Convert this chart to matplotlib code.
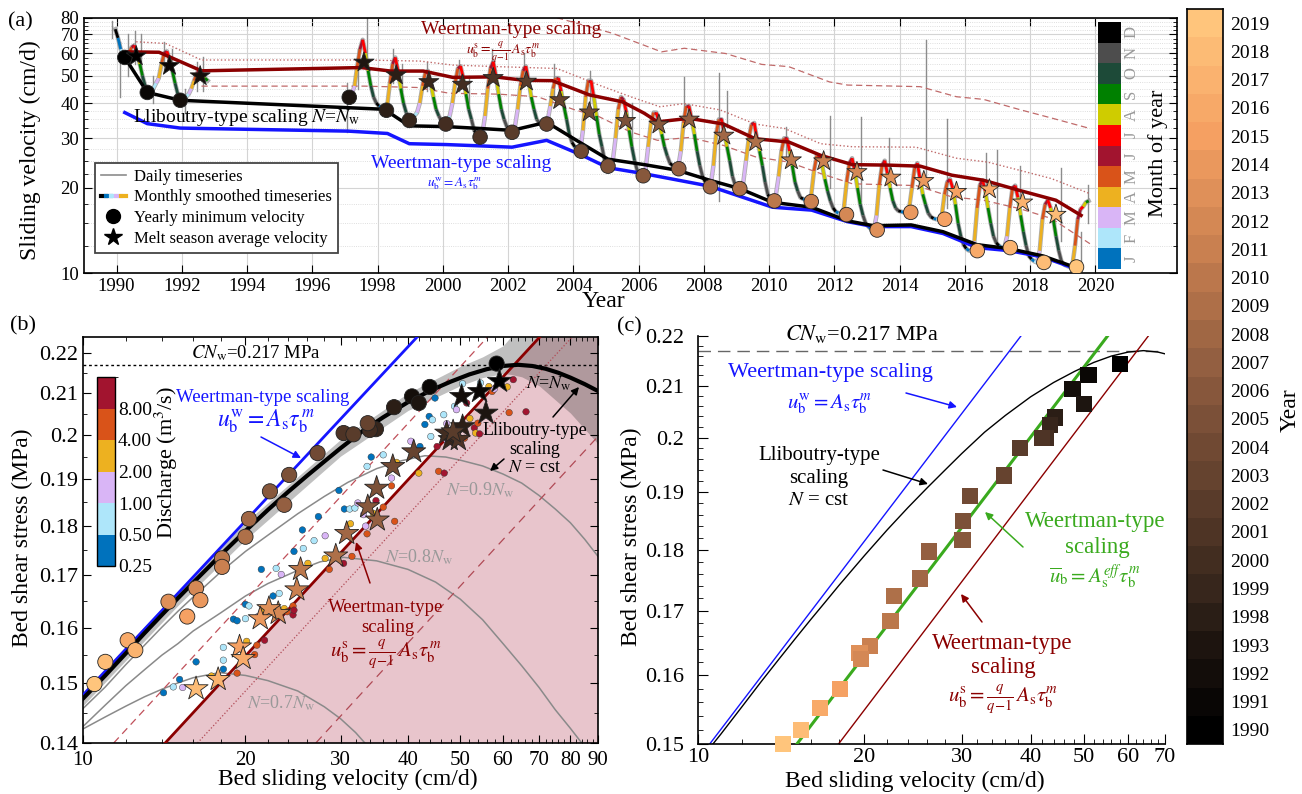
import numpy as np
import matplotlib
matplotlib.use('Agg')
import matplotlib.pyplot as plt
from matplotlib.collections import LineCollection
from matplotlib.colors import ListedColormap, BoundaryNorm, LinearSegmentedColormap
from matplotlib.lines import Line2D
from matplotlib.legend_handler import HandlerTuple
from matplotlib.cm import ScalarMappable

plt.rcParams['font.family'] = ['Liberation Serif', 'DejaVu Serif']
plt.rcParams['mathtext.fontset'] = 'stix'
plt.rcParams['axes.linewidth'] = 1.2

# ---------------------------------------------------------------- data (a)
month_labels = ['J', 'F', 'M', 'A', 'M', 'J', 'J', 'A', 'S', 'O', 'N', 'D']
month_colors = ['#0072BD', '#AEE6FA', '#D9B5F6', '#EDB120', '#D95319', '#A2142F',
                '#FF0000', '#CFCC00', '#008000', '#1D4A38', '#4D4D4D', '#000000']

monthly_years = [1989, 1990, 1991, 1992, 1997, 1998, 1999, 2000, 2001, 2002, 2003,
                 2004, 2005, 2006, 2007, 2008, 2009, 2010, 2011, 2012, 2013, 2014,
                 2015, 2016, 2017, 2018, 2019]
N_ = None
monthly_v = [
    [N_, N_, N_, N_, N_, N_, N_, N_, N_, N_, N_, 73],
    [68, 62, 59, 58, 60, 63, 64, 60, 55, 50, 46, 44],
    [44, 45, 47, 49, 55, 60, 61, 57, 52, 47, 43, 41],
    [41, 42, 43, 45, 48, 51, 52, 50, 49, 48, N_, N_],
    [N_, 42, 43, 46, 54, 62, 67, 60, 52, 46, 42, 40],
    [39, 38.5, 38, 39, 47, 55, 58, 52, 45, 40, 37, 35],
    [35, 36, 37, 40, 46, 51, 52, 47, 42, 38, 36, 34.5],
    [34, 34, 36, 40, 47, 53, 54, 49, 43, 38, 35, 32],
    [31, 30.5, 31, 36, 45, 53, 56, 50, 43, 38, 35, 33],
    [32, 31.5, 33, 38, 46, 52, 54, 48, 42, 38, 35, 34],
    [34, 34, 34.5, 39, 45, 49, 49, 44, 39, 35, 31, 29],
    [28, 27.5, 27, 32, 42, 48, 48, 42, 36, 31, 28, 25],
    [24, 24, 25, 30, 38, 42, 41, 37, 32, 28, 25, 23],
    [22.5, 22, 23, 28, 34, 37, 37, 34, 31, 28, 26, 24.5],
    [24, 23.5, 23.5, 27, 34, 39, 39, 35, 31, 27, 24, 22],
    [21, 20.5, 20.5, 24, 31, 35, 35, 31, 28, 25, 22, 20.5],
    [20, 20, 21, 25, 30, 33.5, 34, 30, 27, 24, 21, 19],
    [18.2, 18, 19, 22, 27, 30, 30, 27, 24, 21, 19.5, 18.5],
    [18.3, 18.1, 17.9, 19, 23, 26, 26, 24, 21.5, 19.5, 18, 17],
    [16.5, 16.3, 16.1, 17, 21, 24.5, 25.5, 23, 20, 17.5, 16, 15],
    [14.6, 14.3, 14.2, 16, 20.5, 24, 25, 22.5, 20, 18, 17, 16.6],
    [16.5, 16.4, 16.4, 17, 20, 23.5, 24.5, 21.5, 19, 17.5, 16.3, 15.8],
    [15.6, 15.5, 15.5, 16, 19, 21, 21.5, 20, 17.5, 15, 13.5, 12.6],
    [12.2, 12.0, 12.0, 13, 17, 20.5, 21.3, 19.5, 17, 15, 13.5, 12.8],
    [12.5, 12.3, 12.3, 13.5, 17, 20, 20.4, 18.5, 16, 14, 12.5, 11.5],
    [11.2, 11.0, 10.9, 12, 15.5, 17.5, 18.1, 17, 15.5, 13.5, 12, 11],
    [10.7, 10.6, 10.5, 10.6, 12.5, 15.5, 16.8, 17.2, 17.8, 18, N_, N_],
]

# daily timeseries spikes: time, low, high (cm/d)
spike_t = [1989.85, 1990.1, 1990.35, 1990.55, 1990.75, 1991.1, 1991.45, 1991.7, 1992.1,
           1992.45, 1992.65, 1997.07, 1997.4, 1997.66, 1998.46, 1998.75, 1999.5, 2000.5,
           2000.8, 2001.5, 2002.5, 2003.4, 2004.5, 2005.8, 2007.39, 2008.46, 2008.7,
           2010.53, 2011.85, 2012.83, 2013.66, 2014.8, 2015.46, 2016.64, 2016.98,
           2017.7, 2018.93, 2019.55, 2019.77]
spike_lo = [68, 42, 50, 55, 48, 40, 52, 50, 37, 44, 44, 31.5, 45, 55, 47, 44, 44, 44,
            40, 48, 46, 42, 40, 28, 36, 18, 33, 26, 20, 18, 21, 22, 17, 19, 13, 16, 13,
            9.5, 15]
spike_hi = [78, 66, 70, 72, 70, 50, 66, 62, 45, 56, 58, 47, 62, 80, 62, 55, 56, 57,
            50, 62, 60, 55, 52, 40, 49.5, 51, 44, 33, 36, 35.6, 30, 67, 35, 26.6, 27.3,
            24, 23.6, 14, 20.5]

year_labels = [1990, 1991, 1992, 1993] + list(range(1998, 2020))

min_t = [1990.25, 1990.94, 1991.95, 1997.13, 1998.27, 1998.97, 2000.09, 2001.14,
         2002.12, 2003.18, 2004.24, 2005.06, 2006.14, 2007.23, 2008.2, 2009.1,
         2010.16, 2011.29, 2012.37, 2013.31, 2014.34, 2015.38, 2016.38, 2017.39,
         2018.42, 2019.42]
min_v = [58, 43.6, 40.9, 41.9, 37.7, 34.7, 33.7, 30.3, 31.5, 33.7, 27.0, 23.9, 22.1,
         23.4, 20.2, 19.9, 18.0, 17.9, 16.1, 14.2, 16.4, 15.5, 12.0, 12.3, 10.9, 10.5]

star_t = [1990.6, 1991.62, 1992.56, 1997.58, 1998.57, 1999.57, 2000.6, 2001.54,
          2002.56, 2003.58, 2004.49, 2005.6, 2006.62, 2007.55, 2008.61, 2009.59,
          2010.68, 2011.67, 2012.69, 2013.73, 2014.74, 2015.74, 2016.75, 2017.77,
          2018.79]
star_v = [58.6, 54.2, 49.8, 55.7, 50.2, 47.5, 46.5, 49.1, 47.7, 41.0, 37.1, 34.6, 33.6,
          35.0, 30.7, 29.1, 25.1, 24.9, 22.8, 21.8, 21.2, 19.4, 19.8, 17.8, 16.1]

llib_t = [1990.25, 1990.94, 1991.95, 1998.2, 1998.97, 2000.1, 2001.14, 2002.12, 2003.18,
          2004.2, 2005.06, 2006.17, 2007.2, 2008.18, 2009.1, 2010.1, 2011.3, 2012.4,
          2013.2, 2014.35, 2015.33, 2016.37, 2017.35, 2018.38, 2019.35]
llib_v = [58.0, 43.6, 40.9, 38.0, 33.2, 33.0, 32.5, 32.0, 34.2, 29.0, 25.3, 24.2, 23.1,
          21.3, 19.9, 17.8, 17.1, 15.3, 14.7, 14.8, 14.0, 12.6, 12.2, 11.5, 10.5]

weer_w_t = [1990.25, 1990.94, 1991.95, 1997.1, 1998.3, 1998.97, 2000.1, 2001.14,
            2002.12, 2003.18, 2004.24, 2005.06, 2006.14, 2008.18, 2010.1, 2011.3,
            2012.4, 2013.2, 2014.35, 2015.33, 2016.37, 2017.35, 2018.38, 2019.35]
weer_w_v = [37.0, 33.8, 32.6, 31.8, 31.2, 28.7, 28.5, 28.2, 27.9, 29.5, 26.2, 23.6,
            22.5, 20.3, 17.1, 16.7, 15.2, 14.6, 14.6, 13.8, 12.3, 12.0, 11.4, 10.4]

weer_s_t = [1990.3, 1991.3, 1992.6, 1997.5, 1998.4, 1999.4, 2000.3, 2001.6, 2002.5,
            2003.35, 2004.5, 2005.5, 2006.17, 2006.58, 2007.55, 2008.6, 2009.57,
            2010.6, 2011.58, 2012.55, 2013.66, 2014.63, 2015.6, 2016.57, 2017.68,
            2018.79, 2019.56]
weer_s_v = [60.7, 60.5, 52.0, 53.4, 51.9, 51.9, 49.3, 49.5, 48.1, 48.0, 42.7, 40.4,
            36.8, 34.3, 35.3, 33.7, 29.9, 29.1, 26.1, 24.2, 24.1, 23.9, 22.2, 21.3,
            19.6, 18.1, 16.0]

dot_t = [1990.6, 1991.5, 1992.6, 1997.6, 1999.3, 2000.3, 2001.7, 2003.5, 2004.78,
         2005.75, 2006.65, 2007.4, 2008.5, 2009.57, 2010.47, 2011.58, 2012.55, 2014.5,
         2015.74, 2016.7, 2017.68, 2018.65, 2019.83]
dot_v = [65.9, 65.0, 56.8, 56.8, 56.3, 54.5, 53.8, 53.0, 46.3, 42.1, 38.8, 39.8, 37.8,
         33.7, 32.5, 28.7, 28.0, 27.9, 25.5, 24.7, 23.1, 21.6, 19.1]

dashlo_t = [1992.6, 1997.6, 1999.2, 2000.2, 2001.7, 2002.9, 2004.05, 2004.78, 2005.75,
            2006.58, 2007.55, 2008.6, 2009.57, 2010.6, 2011.58, 2012.55, 2014.5, 2015.6,
            2016.57, 2017.68, 2018.65, 2019.83]
dashlo_v = [45.9, 45.9, 45.4, 43.3, 43.0, 42.1, 37.8, 35.8, 31.6, 29.5, 30.2, 28.3,
            25.8, 24.7, 22.5, 20.7, 20.4, 18.6, 18.1, 16.9, 15.6, 12.7]

dashhi_t = [2003.2, 2005.2, 2006.7, 2007.4, 2008.66, 2009.77, 2010.6, 2011.85, 2012.4,
            2014.63, 2015.74, 2016.57, 2017.68, 2018.65, 2019.83]
dashhi_v = [82, 70.6, 60.7, 62.5, 59.9, 54.8, 53.8, 47.5, 46.3, 45.7, 42.1, 41.2, 37.9,
            35.4, 32.5]

# ---------------------------------------------------------------- data (b)
b_circ_v = [58.4, 43.9, 40.7, 41.9, 37.7, 34.9, 34.0, 30.4, 31.7, 33.7, 27.2, 24.1,
            22.2, 23.6, 20.3, 20.0, 18.1, 18.1, 16.2, 14.4, 16.5, 15.6, 12.1, 12.5,
            11.0, 10.5]
b_circ_tau = [0.2173, 0.2115, 0.2092, 0.2076, 0.2066, 0.2014, 0.2012, 0.2005, 0.2002,
              0.2028, 0.1959, 0.1910, 0.1874, 0.1845, 0.1815, 0.1778, 0.1734, 0.1717,
              0.1675, 0.1649, 0.1652, 0.1621, 0.1577, 0.1559, 0.1538, 0.1499]
b_star_v = [59.1, 54.3, 50.3, 55.8, 50.5, 47.9, 47.2, 49.6, 48.5, 41.0, 37.5, 35.0,
            33.7, 35.1, 30.8, 29.4, 25.3, 24.9, 23.0, 22.1, 21.3, 19.5, 19.8, 17.8, 16.2]
b_star_tau = [0.2129, 0.2104, 0.2092, 0.2052, 0.2020, 0.1990, 0.2005, 0.1990, 0.2008,
              0.1962, 0.1929, 0.1881, 0.1841, 0.1813, 0.1785, 0.1739, 0.1712, 0.1672,
              0.1627, 0.1636, 0.1617, 0.1565, 0.1544, 0.1507, 0.1491]

mdot_v = [14.1, 14.7, 15.1, 15.3, 16.2, 17.3, 18.2, 18.2, 18.2, 19.3, 20.1, 20.8, 21.0,
          21.7, 19.0, 19.3, 20.0, 20.0, 20.3, 21.1, 21.5, 22.5, 23.1, 23.6, 23.9, 24.5,
          24.5, 24.6, 21.4, 22.8, 23.3, 24.6, 25.6, 25.5, 26.1, 26.8, 28.1, 28.1, 27.3,
          28.6, 30.4, 29.8, 30.5, 31.2, 31.9, 32.3, 31.3, 31.5, 33.1, 33.4, 33.6, 34.5,
          34.9, 36.0, 37.8, 37.3, 37.3, 34.2, 33.6, 36.0, 38.1, 40.5, 41.9, 42.1, 43.0,
          43.8, 44.1, 44.4, 44.9, 45.3, 45.6, 46.6, 46.7, 47.2, 47.2, 48.7, 48.8, 49.2,
          50.5, 51.4, 50.9, 52.1, 53.1, 53.4, 53.9, 54.3, 54.5, 56.5, 57.3, 57.8, 61.1,
          61.6, 62.7, 66.2]
mdot_tau = [0.1484, 0.1494, 0.1507, 0.1493, 0.1538, 0.1513, 0.1525, 0.1541, 0.1564,
            0.1518, 0.1575, 0.1551, 0.1568, 0.1577, 0.1616, 0.1613, 0.1617, 0.1644,
            0.1641, 0.1621, 0.1633, 0.1660, 0.1665, 0.1636, 0.1630, 0.1641, 0.1624,
            0.1633, 0.1712, 0.1714, 0.1702, 0.1748, 0.1754, 0.1792, 0.1724, 0.1770,
            0.1780, 0.1734, 0.1820, 0.1712, 0.1724, 0.1876, 0.1836, 0.1836, 0.1838,
            0.1849, 0.1805, 0.1738, 0.1824, 0.1800, 0.1784, 0.1827, 0.1854, 0.1840,
            0.1810, 0.1886, 0.1903, 0.1950, 0.1929, 0.1955, 0.1938, 0.1986, 0.1914,
            0.1974, 0.2025, 0.2044, 0.1997, 0.2036, 0.2088, 0.1974, 0.1918, 0.2048,
            0.1914, 0.2027, 0.1989, 0.2009, 0.2068, 0.2060, 0.2123, 0.2076, 0.1993,
            0.2039, 0.2017, 0.2005, 0.2028, 0.2003, 0.2125, 0.2116, 0.2104, 0.2110,
            0.2115, 0.2053, 0.2133, 0.2055]
mdot_q = [0.3, 0.7, 0.3, 1.5, 0.3, 3, 0.3, 0.7, 0.7, 6, 3, 6, 6, 10, 0.3, 0.3, 0.7, 0.3,
          0.7, 1.5, 3, 0.3, 0.7, 3, 6, 6, 10, 10, 0.3, 0.7, 1.5, 0.3, 0.7, 0.3, 3, 0.7,
          1.5, 3, 0.3, 6, 10, 0.3, 0.3, 0.7, 0.7, 1.5, 3, 6, 1.5, 1.5, 6, 3, 10, 6, 6, 6,
          1.5, 0.3, 0.7, 0.7, 3, 1.5, 3, 0.3, 0.3, 0.3, 0.7, 0.7, 0.3, 10, 6, 0.7, 10,
          1.5, 1.5, 3, 0.7, 1.5, 0.7, 10, 6, 3, 10, 3, 6, 10, 0.7, 3, 6, 1.5, 3, 6, 10, 10]
q_bounds = [0.25, 0.5, 1, 2, 4, 8, 16]
q_colors = ['#0072BD', '#AEE6FA', '#D9B5F6', '#EDB120', '#D95319', '#A2142F']

# theoretical curves
llib_cv = [10, 11, 12, 13, 14, 15, 16, 17, 18, 19, 20, 22, 24, 26, 28, 30, 33, 36, 40,
           44, 48, 52, 56, 60, 64, 68, 72, 76, 80, 85, 90]
llib_ctau = [0.1474, 0.1514, 0.1553, 0.1590, 0.1624, 0.1656, 0.1686, 0.1714, 0.1741,
             0.1766, 0.1790, 0.1834, 0.1873, 0.1908, 0.1940, 0.1970, 0.2010, 0.2042,
             0.2078, 0.2106, 0.2128, 0.2146, 0.2159, 0.2167, 0.2170, 0.2167, 0.2160,
             0.2150, 0.2138, 0.2122, 0.2105]
band_v = [10, 15, 20, 30, 40, 50, 55, 60, 62, 65, 70, 80, 90]
band_lo = [0.1462, 0.1642, 0.1772, 0.1952, 0.2058, 0.2118, 0.2138, 0.2148, 0.2146,
           0.2140, 0.2118, 0.2052, 0.1980]
band_hi = [0.1486, 0.1670, 0.1808, 0.1990, 0.2100, 0.2166, 0.2190, 0.2218, 0.2241,
           0.2241, 0.2241, 0.2241, 0.2241]
n09_v = [10, 11, 12, 13, 14, 15, 16, 18, 20, 22, 25, 28, 31, 35, 39, 43, 47, 50, 55, 60,
         65, 70, 75, 80, 85, 90]
n09_tau = [0.1457, 0.1494, 0.1533, 0.1568, 0.1601, 0.1631, 0.1658, 0.1707, 0.1748,
           0.1781, 0.1826, 0.1863, 0.1894, 0.1924, 0.1942, 0.1953, 0.1950, 0.1943,
           0.1930, 0.1912, 0.1892, 0.1865, 0.1836, 0.1807, 0.1773, 0.1738]
n08_v = [10, 11, 12, 13, 14, 15, 16, 18, 20, 22, 25, 27.5, 30.4, 35, 40, 45, 50, 55, 60,
         65, 70, 75, 80, 85]
n08_tau = [0.1427, 0.1463, 0.1496, 0.1524, 0.1550, 0.1571, 0.1594, 0.1628, 0.1660,
           0.1684, 0.1710, 0.1727, 0.1736, 0.1729, 0.1712, 0.1687, 0.1654, 0.1615,
           0.1571, 0.1531, 0.1493, 0.1455, 0.1424, 0.1394]
n07_v = [10, 11, 12, 13, 14, 15, 16, 17.9, 20, 22, 25, 28, 30, 32, 34]
n07_tau = [0.1423, 0.1443, 0.1461, 0.1477, 0.1490, 0.1501, 0.1510, 0.1519, 0.1514,
           0.1505, 0.1487, 0.1460, 0.1440, 0.1417, 0.1391]

b_weer_w_v = [10, 41.6]
b_weer_w_tau = [0.148, 0.2241]
b_weer_s_v = [14.2, 70.2]
b_weer_s_tau = [0.14, 0.2241]
b_dashL_v = [11.4, 56.2]
b_dotR_v = [16.3, 80.6]
b_dashR_v = [27.0, 133.0]
cnw = 0.217

# ---------------------------------------------------------------- data (c)
c_sq_years = [1990, 1991, 1992, 1993, 1998, 1999, 2000, 2001, 2002, 2003, 2004, 2005,
              2006, 2007, 2008, 2009, 2010, 2011, 2013, 2012, 2015, 2016, 2018, 2019]
c_sq_v = [58.0, 50.9, 47.6, 49.9, 44.3, 43.4, 42.7, 41.9, 38.2, 35.8, 31.1, 30.2, 30.1,
          26.2, 25.2, 22.6, 22.3, 20.5, 19.6, 19.7, 18.1, 16.6, 15.35, 14.24]
c_sq_tau = [0.2143, 0.2121, 0.2093, 0.2064, 0.2038, 0.2024, 0.1999, 0.1999, 0.1981,
            0.1930, 0.1893, 0.1849, 0.1817, 0.1797, 0.1752, 0.1723, 0.1683, 0.1645,
            0.1634, 0.1624, 0.1579, 0.1552, 0.1520, 0.1500]
c_weer_w_v = [10.5, 38.4]
c_weer_eff_v = [15.1, 55.1]
c_weer_s_v = [17.96, 65.3]
c_line_tau = [0.15, 0.22]

# ---------------------------------------------------------------- helpers
W, H = 1302, 794
fig = plt.figure(figsize=(W / 100, H / 100), dpi=100)


def rect(l, t, r, b):
    return [l / W, 1 - b / H, (r - l) / W, (b - t) / H]


def fp(x, y):
    return (x / W, 1 - y / H)


def ftext(x, y, s, **kw):
    kw.setdefault('ha', 'center')
    kw.setdefault('va', 'center')
    fig.text(x / W, 1 - y / H, s, **kw)


def farrow(ax, x0, y0, x1, y1, color):
    ax.annotate('', xy=fp(x1, y1), xytext=fp(x0, y0), xycoords='figure fraction',
                textcoords='figure fraction',
                arrowprops=dict(arrowstyle='-|>', color=color, lw=1.1,
                                mutation_scale=11, shrinkA=0, shrinkB=0))


# year colours
anchor_idx = [0, 3, 4, 8, 13, 17, 21, 25]
anchor_col = ['#000000', '#1e1510', '#2c1f17', '#5a3c2b', '#935f41', '#c98050',
              '#f5a062', '#ffc57c']
ycmap_c = LinearSegmentedColormap.from_list(
    'yr', list(zip([i / 25 for i in anchor_idx], anchor_col)))
year_cols = [ycmap_c(i / 25) for i in range(len(year_labels))]
ycol = dict(zip(year_labels, year_cols))

# ================================================================ panel (a)
axA = fig.add_axes(rect(84, 18, 1177, 273))
axA.set_yscale('log')
axA.set_xlim(1989.0, 2022.5)
axA.set_ylim(10, 80)
maj_y = [10, 20, 30, 40, 50, 60, 70, 80]
min_y = [v for v in np.arange(12.5, 80, 2.5) if v not in maj_y]
axA.set_yticks(maj_y)
axA.set_yticklabels([str(v) for v in maj_y])
axA.set_yticks(min_y, minor=True)
axA.yaxis.set_minor_formatter(plt.NullFormatter())
axA.set_xticks(range(1990, 2021, 2))
axA.set_xticks([], minor=True)
axA.grid(axis='x', which='major', color='#d4d4d4', lw=0.8)
axA.grid(axis='y', which='major', color='#d4d4d4', lw=0.8)
axA.grid(axis='y', which='minor', color='#d4d4d4', lw=0.6, ls=':')
axA.set_axisbelow(True)
axA.tick_params(which='both', direction='in', top=True, right=True, labelsize=13.5)
axA.tick_params(which='major', length=6)
axA.tick_params(which='minor', length=3)

# monthly series
pts = []
for yr, row in zip(monthly_years, monthly_v):
    for m, v in enumerate(row):
        if v is not None:
            pts.append((yr + (m + 0.5) / 12.0, v, m))
segs, cols, runs, cur = [], [], [], [pts[0]]
for p0, p1 in zip(pts[:-1], pts[1:]):
    if p1[0] - p0[0] < 0.1:
        segs.append([(p0[0], p0[1]), (p1[0], p1[1])])
        cols.append(month_colors[p0[2]])
        cur.append(p1)
    else:
        runs.append(cur)
        cur = [p1]
runs.append(cur)
for run in runs:
    axA.plot([p[0] for p in run], [p[1] for p in run], color='#8c8c8c', lw=3.2,
             alpha=0.7, zorder=2)
for t, lo, hi in zip(spike_t, spike_lo, spike_hi):
    axA.plot([t, t], [lo, hi], color='#8c8c8c', lw=1.0, zorder=2)
axA.add_collection(LineCollection(segs, colors=cols, linewidths=2.0, zorder=3))

axA.plot(dashhi_t, dashhi_v, color='#c06a6a', lw=0.9, ls=(0, (5, 3)), zorder=2.5)
axA.plot(dot_t, dot_v, color='#c06a6a', lw=1.0, ls=':', zorder=2.5)
axA.plot(dashlo_t, dashlo_v, color='#c06a6a', lw=0.9, ls=(0, (5, 3)), zorder=2.5)
axA.plot(weer_w_t, weer_w_v, color='#1515ff', lw=2.5, zorder=4)
axA.plot(llib_t, llib_v, color='black', lw=2.5, zorder=4)
axA.plot(weer_s_t, weer_s_v, color='#8b0000', lw=2.5, zorder=4)

axA.scatter(min_t, min_v, s=110, c=year_cols, edgecolors='#222222', linewidths=0.6,
            zorder=6)
axA.scatter(star_t, star_v, s=230, marker='*', c=year_cols[:len(star_t)],
            edgecolors='#222222', linewidths=0.6, zorder=6)

ftext(603, 302, 'Year', fontsize=17)
ftext(30, 150, 'Sliding velocity (cm/d)', fontsize=17, rotation=90)
ftext(20, 22, '(a)', fontsize=16)
ftext(511, 30, 'Weertman-type scaling', fontsize=14, color='#8b0000')
ftext(503, 52, r'$u_\mathrm{b}^\mathrm{s}=\frac{q}{q\mathrm{-}1}\,A_\mathrm{s}\tau_\mathrm{b}^m$',
      fontsize=10, color='#8b0000')
ftext(247, 117, r'Lliboutry-type scaling $N$=$N_\mathrm{w}$', fontsize=14)
ftext(461, 163, 'Weertman-type scaling', fontsize=14, color='#1515ff')
ftext(454, 184, r'$u_\mathrm{b}^\mathrm{w}=A_\mathrm{s}\tau_\mathrm{b}^m$',
      fontsize=9.5, color='#1515ff')

h_daily = Line2D([], [], color='#8c8c8c', lw=1.2)
h_month = tuple(Line2D([], [], color=c, lw=3) for c in
                ['#000000', '#0072BD', '#AEE6FA', '#D9B5F6', '#EDB120'])
h_min = Line2D([], [], ls='none', marker='o', color='black', markersize=10)
h_star = Line2D([], [], ls='none', marker='*', color='black', markersize=13)
leg = axA.legend([h_daily, h_month, h_min, h_star],
                 ['Daily timeseries', 'Monthly smoothed timeseries',
                  'Yearly minimum velocity', 'Melt season average velocity'],
                 handler_map={tuple: HandlerTuple(ndivide=None, pad=0)},
                 loc='upper left', bbox_to_anchor=(0.01, 0.432), borderaxespad=0,
                 fontsize=12, frameon=True, fancybox=False, framealpha=1,
                 edgecolor='#444444', handlelength=1.5, handletextpad=0.5,
                 labelspacing=0.28, borderpad=0.35)
leg.get_frame().set_linewidth(1.3)
leg.set_zorder(10)

# month colourbar inside panel (a)
axM = fig.add_axes(rect(1098, 22, 1121, 269))
axM.imshow(np.arange(12).reshape(-1, 1), cmap=ListedColormap(month_colors),
           origin='lower', aspect='auto', extent=(0, 1, 0, 12))
axM.set_xticks([])
axM.set_yticks([])
for s in axM.spines.values():
    s.set_visible(False)
for i, lab in enumerate(month_labels):
    axM.text(1.45, i + 0.5, lab, rotation=90, ha='center', va='center',
             fontsize=12, color='#9a9a9a', transform=axM.get_yaxis_transform())
ftext(1158, 153, 'Month of year', fontsize=16, rotation=90)

# year colourbar
axY = fig.add_axes(rect(1187, 9, 1223, 744))
axY.imshow(np.arange(len(year_labels)).reshape(-1, 1), cmap=ListedColormap(year_cols),
           origin='lower', aspect='auto', extent=(0, 1, -0.5, len(year_labels) - 0.5))
axY.set_xticks([])
axY.yaxis.tick_right()
axY.set_yticks(range(len(year_labels)))
axY.set_yticklabels([str(y) for y in year_labels])
axY.tick_params(axis='y', length=0, labelsize=14, pad=5)
for s in axY.spines.values():
    s.set_linewidth(1.2)
ftext(1290, 410, 'Year', fontsize=17, rotation=90)

# ================================================================ panel (b)
axB = fig.add_axes(rect(83, 337, 598, 743))
axB.set_xscale('log')
axB.set_yscale('log')
xmax_b, ymin_b, ymax_b = 90, 0.14, 0.2241
axB.fill([b_weer_s_v[0], b_weer_s_v[1], xmax_b, xmax_b],
         [b_weer_s_tau[0], b_weer_s_tau[1], ymax_b, ymin_b],
         color='#e8c5cc', lw=0, zorder=0)
axB.fill_between(band_v, band_lo, band_hi, color='#404040', alpha=0.33, lw=0, zorder=1)
for cv, ct in [(n09_v, n09_tau), (n08_v, n08_tau), (n07_v, n07_tau)]:
    axB.plot(cv, ct, color='#8a8a8a', lw=1.1, zorder=2)
axB.axhline(cnw, color='black', lw=1.0, ls=(0, (2, 2)), zorder=2)
axB.plot(b_dashL_v, b_weer_s_tau, color='#c0505a', lw=0.9, ls=(0, (6, 4)), zorder=2)
axB.plot(b_dotR_v, b_weer_s_tau, color='#b04a55', lw=0.9, ls=':', zorder=2)
axB.plot(b_dashR_v, b_weer_s_tau, color='#b04a55', lw=0.9, ls=(0, (7, 5)), zorder=2)
axB.plot(b_weer_w_v, b_weer_w_tau, color='#1515ff', lw=2.0, zorder=3)
axB.plot(b_weer_s_v, b_weer_s_tau, color='#8b0000', lw=2.0, zorder=3)
axB.plot(llib_cv, llib_ctau, color='black', lw=3.0, zorder=3)
qnorm = BoundaryNorm(q_bounds, len(q_colors))
qcmap = ListedColormap(q_colors)
axB.scatter(mdot_v, mdot_tau, s=22, c=mdot_q, cmap=qcmap, norm=qnorm,
            edgecolors='#333333', linewidths=0.3, zorder=4)
axB.scatter(b_circ_v, b_circ_tau, s=120, c=year_cols, edgecolors='#222222',
            linewidths=0.6, zorder=5)
axB.scatter(b_star_v, b_star_tau, s=330, marker='*', c=year_cols[:len(b_star_v)],
            edgecolors='#222222', linewidths=0.6, zorder=6)
axB.set_xlim(10, xmax_b)
axB.set_ylim(ymin_b, ymax_b)
bx = [10, 20, 30, 40, 50, 60, 70, 80, 90]
axB.set_xticks(bx)
axB.set_xticklabels([str(v) for v in bx])
axB.set_xticks([12, 14, 16, 18, 22, 24, 26, 28, 32, 34, 36, 38, 42, 44, 46, 48, 52, 54,
                56, 58, 62, 64, 66, 68, 72, 74, 76, 78, 82, 84, 86, 88], minor=True)
axB.xaxis.set_minor_formatter(plt.NullFormatter())
by = [0.14, 0.15, 0.16, 0.17, 0.18, 0.19, 0.20, 0.21, 0.22]
axB.set_yticks(by)
axB.set_yticklabels(['0.14', '0.15', '0.16', '0.17', '0.18', '0.19', '0.2', '0.21', '0.22'])
axB.set_yticks([0.145, 0.155, 0.165, 0.175, 0.185, 0.195, 0.205, 0.215], minor=True)
axB.yaxis.set_minor_formatter(plt.NullFormatter())
axB.tick_params(which='both', direction='in', top=True, right=True)
axB.tick_params(which='major', length=6)
axB.tick_params(which='minor', length=3)
axB.tick_params(axis='y', labelsize=16)
axB.tick_params(axis='x', labelsize=15, pad=6)

# discharge colourbar
axQ = fig.add_axes(rect(97, 377, 115, 566))
cb = fig.colorbar(ScalarMappable(norm=qnorm, cmap=qcmap), cax=axQ,
                  ticks=[0.25, 0.5, 1, 2, 4, 8], spacing='uniform')
cb.ax.set_yticklabels(['0.25', '0.50', '1.00', '2.00', '4.00', '8.00'])
cb.ax.tick_params(labelsize=14, length=0, pad=2)
cb.outline.set_linewidth(1.0)
ftext(166, 463, r'Discharge (m$^3$/s)', fontsize=16, rotation=90)

ftext(23, 326, '(b)', fontsize=16)
ftext(22, 538, 'Bed shear stress (MPa)', fontsize=17, rotation=90)
ftext(348, 779, 'Bed sliding velocity (cm/d)', fontsize=17)
ftext(256, 353, r'$CN_\mathrm{w}$=0.217 MPa', fontsize=13.5)
ftext(263, 397, 'Weertman-type scaling', fontsize=13.5, color='#1515ff')
ftext(266, 421, r'$u_\mathrm{b}^\mathrm{w}=A_\mathrm{s}\tau_\mathrm{b}^{\,m}$',
      fontsize=17, color='#1515ff')
farrow(axB, 261, 437, 301, 458, '#1515ff')
ftext(549, 384, r'$N$=$N_\mathrm{w}$', fontsize=13)
farrow(axB, 553, 417, 579, 387, 'black')
ftext(535, 449, 'Lliboutry-type\nscaling\n$N$ = cst', fontsize=13, linespacing=1.15)
farrow(axB, 504, 459, 490, 471, 'black')
ftext(480, 490, r'$N$=0.9$N_\mathrm{w}$', fontsize=13, color='#999999')
ftext(419, 557, r'$N$=0.8$N_\mathrm{w}$', fontsize=13, color='#999999')
ftext(281, 703, r'$N$=0.7$N_\mathrm{w}$', fontsize=13, color='#999999')
ftext(386, 607, 'Weertman-type', fontsize=13.5, color='#8b0000')
ftext(388, 627, 'scaling', fontsize=13.5, color='#8b0000')
ftext(386, 655, r'$u_\mathrm{b}^\mathrm{s}=\frac{q}{q\mathrm{-}1}\,A_\mathrm{s}\tau_\mathrm{b}^{\,m}$',
      fontsize=15, color='#8b0000')
farrow(axB, 370, 583, 356, 542, '#8b0000')

# ================================================================ panel (c)
axC = fig.add_axes(rect(698, 336, 1165, 744))
axC.set_xscale('log')
axC.set_yscale('log')
axC.plot(c_weer_w_v, c_line_tau, color='#1515ff', lw=1.0, zorder=2)
axC.plot(llib_cv, llib_ctau, color='black', lw=1.0, zorder=2)
axC.plot(c_weer_s_v, c_line_tau, color='#8b0000', lw=1.0, zorder=2)
axC.plot(c_weer_eff_v, c_line_tau, color='#3aaa1e', lw=2.2, zorder=3)
axC.axhline(cnw, color='#666666', lw=1.0, ls=(0, (9, 5)), zorder=1)
axC.scatter(c_sq_v, c_sq_tau, s=135, marker='s', c=[ycol[y] for y in c_sq_years],
            linewidths=0, zorder=4, clip_on=False)
axC.set_xlim(10, 70)
axC.set_ylim(0.15, 0.22)
for s in ['top', 'right']:
    axC.spines[s].set_visible(False)
cx = [10, 20, 30, 40, 50, 60, 70]
axC.set_xticks(cx)
axC.set_xticklabels([str(v) for v in cx])
axC.set_xticks([v for v in range(12, 70, 2) if v % 10 != 0], minor=True)
axC.xaxis.set_minor_formatter(plt.NullFormatter())
cy = [0.15, 0.16, 0.17, 0.18, 0.19, 0.20, 0.21, 0.22]
axC.set_yticks(cy)
axC.set_yticklabels(['0.15', '0.16', '0.17', '0.18', '0.19', '0.2', '0.21', '0.22'])
axC.set_yticks([round(0.15 + 0.002 * k, 3) for k in range(1, 35) if k % 5 != 0],
               minor=True)
axC.yaxis.set_minor_formatter(plt.NullFormatter())
axC.tick_params(which='both', direction='in')
axC.tick_params(which='major', length=7)
axC.tick_params(which='minor', length=3.5)
axC.tick_params(labelsize=16)
axC.tick_params(axis='x', pad=3)
axC.tick_params(axis='y', pad=10)

ftext(629, 327, '(c)', fontsize=16)
ftext(631, 537, 'Bed shear stress (MPa)', fontsize=17, rotation=90)
ftext(915, 781, 'Bed sliding velocity (cm/d)', fontsize=17)
ftext(862, 334, r'$CN_\mathrm{w}$=0.217 MPa', fontsize=16)
ftext(830, 373, 'Weertman-type scaling', fontsize=16, color='#1515ff')
ftext(830, 404, r'$u_\mathrm{b}^\mathrm{w}=A_\mathrm{s}\tau_\mathrm{b}^m$',
      fontsize=15, color='#1515ff')
farrow(axC, 906, 393, 957, 407, '#1515ff')
ftext(819, 478, 'Lliboutry-type\nscaling\n$N$ = cst', fontsize=15, linespacing=1.25)
farrow(axC, 883, 470, 928, 484, 'black')
ftext(1095, 522, 'Weertman-type', fontsize=16.5, color='#3aaa1e')
ftext(1097, 547, 'scaling', fontsize=16.5, color='#3aaa1e')
ftext(1095, 577, r'$\overline{u}_\mathrm{b}=A_\mathrm{s}^{eff}\tau_\mathrm{b}^m$',
      fontsize=15, color='#3aaa1e')
farrow(axC, 1023, 547, 985, 512, '#3aaa1e')
ftext(1002, 643, 'Weertman-type', fontsize=16.5, color='#8b0000')
ftext(1003, 668, 'scaling', fontsize=16.5, color='#8b0000')
ftext(1003, 700, r'$u_\mathrm{b}^\mathrm{s}=\frac{q}{q\mathrm{-}1}\,A_\mathrm{s}\tau_\mathrm{b}^m$',
      fontsize=15, color='#8b0000')
farrow(axC, 982, 622, 961, 594, '#8b0000')

fig.savefig('out.png', dpi=100)
